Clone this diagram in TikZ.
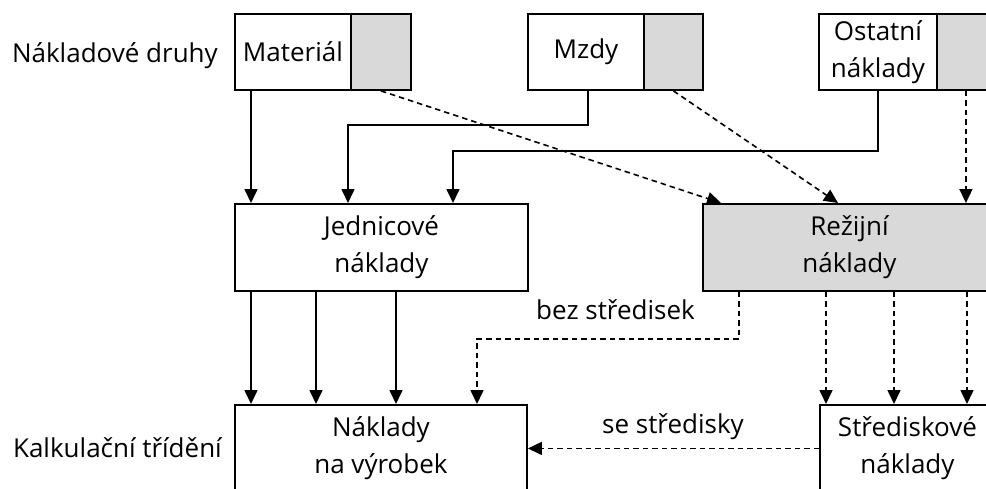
\documentclass[tikz,border=0pt]{standalone}
\usepackage{fontspec}
\setmainfont{Open Sans}
\usetikzlibrary{arrows.meta,calc}
\definecolor{boxgrey}{RGB}{217,217,217}
\newcommand\lblfont{\fontsize{26}{37}\selectfont}
\begin{document}
\begin{tikzpicture}[x=1pt,y=-1pt,
  tbox/.style={draw, line width=1.9pt, inner sep=0pt, anchor=north west, align=center, font=\lblfont},
  lbl/.style={inner sep=0pt, font=\lblfont},
  arr/.style={line width=1.6pt, -{Triangle[width=13pt,length=14pt]}},
  darr/.style={arr, dash pattern=on 5.5pt off 4pt}]
\useasboundingbox (0,0) rectangle (986,488);
% top boxes
\node[tbox, minimum width=116, minimum height=76] (mat) at (234,13) {Materiál};
\node[tbox, fill=boxgrey, minimum width=60, minimum height=76] (matg) at (350,13) {};
\node[tbox, minimum width=116, minimum height=76] (mzd) at (527,13) {Mzdy};
\node[tbox, fill=boxgrey, minimum width=59, minimum height=76] (mzdg) at (643,13) {};
\node[tbox, minimum width=118, minimum height=76] (ost) at (818,13) {Ostatní\\náklady};
\node[tbox, fill=boxgrey, minimum width=58, minimum height=76] (ostg) at (936,13) {};
% middle
\node[tbox, minimum width=293, minimum height=87] (jed) at (234,203) {Jednicové\\náklady};
\node[tbox, fill=boxgrey, minimum width=293, minimum height=87] (rez) at (702,203) {Režijní\\náklady};
% bottom
\node[tbox, minimum width=292, minimum height=87] (nak) at (234,404) {Náklady\\na výrobek};
\node[tbox, minimum width=175, minimum height=87] (str) at (819,404) {Střediskové\\náklady};
% labels
\node[lbl, anchor=base east] (ndr) at (218,62) {Nákladové druhy};
\node[lbl, anchor=base east] (kt) at (222,457) {Kalkulační třídění};
\node[lbl, anchor=base] (bez) at (615.5,319) {bez středisek};
\node[lbl, anchor=base] (se) at (673,433) {se středisky};
% top -> middle
\draw[arr] ($(mat.south west)+(17,0)$) -- ($(jed.north west)+(17,0)$);
\draw[arr] ($(mzd.south west)+(61,0)$) -- ++(0,34) -| ($(jed.north west)+(114,0)$);
\draw[arr] ($(ost.south west)+(60,0)$) -- ++(0,60) -| ($(jed.north west)+(219,0)$);
\draw[darr] (matg.south) -- ($(rez.north west)+(19,0)$);
\draw[darr] (mzdg.south) -- ($(rez.north west)+(136,0)$);
\draw[darr] (ostg.south) -- (ostg.south |- rez.north);
% middle -> bottom
\draw[arr] ($(jed.south west)+(17,0)$) -- ($(nak.north west)+(17,0)$);
\draw[arr] ($(jed.south west)+(82,0)$) -- ($(nak.north west)+(82,0)$);
\draw[arr] ($(jed.south west)+(162,0)$) -- ($(nak.north west)+(162,0)$);
\draw[darr] ($(rez.south west)+(37,0)$) -- ++(0,47) -| ($(nak.north west)+(243,0)$);
\coordinate (s1) at ($(str.north west)+(7,0)$);
\coordinate (s2) at ($(str.north west)+(75,0)$);
\coordinate (s3) at ($(str.north west)+(148,0)$);
\draw[darr] (rez.south -| s1) -- (s1);
\draw[darr] (rez.south -| s2) -- (s2);
\draw[darr] (rez.south -| s3) -- (s3);
\draw[darr] (str.west) -- (nak.east);
\end{tikzpicture}
\end{document}
